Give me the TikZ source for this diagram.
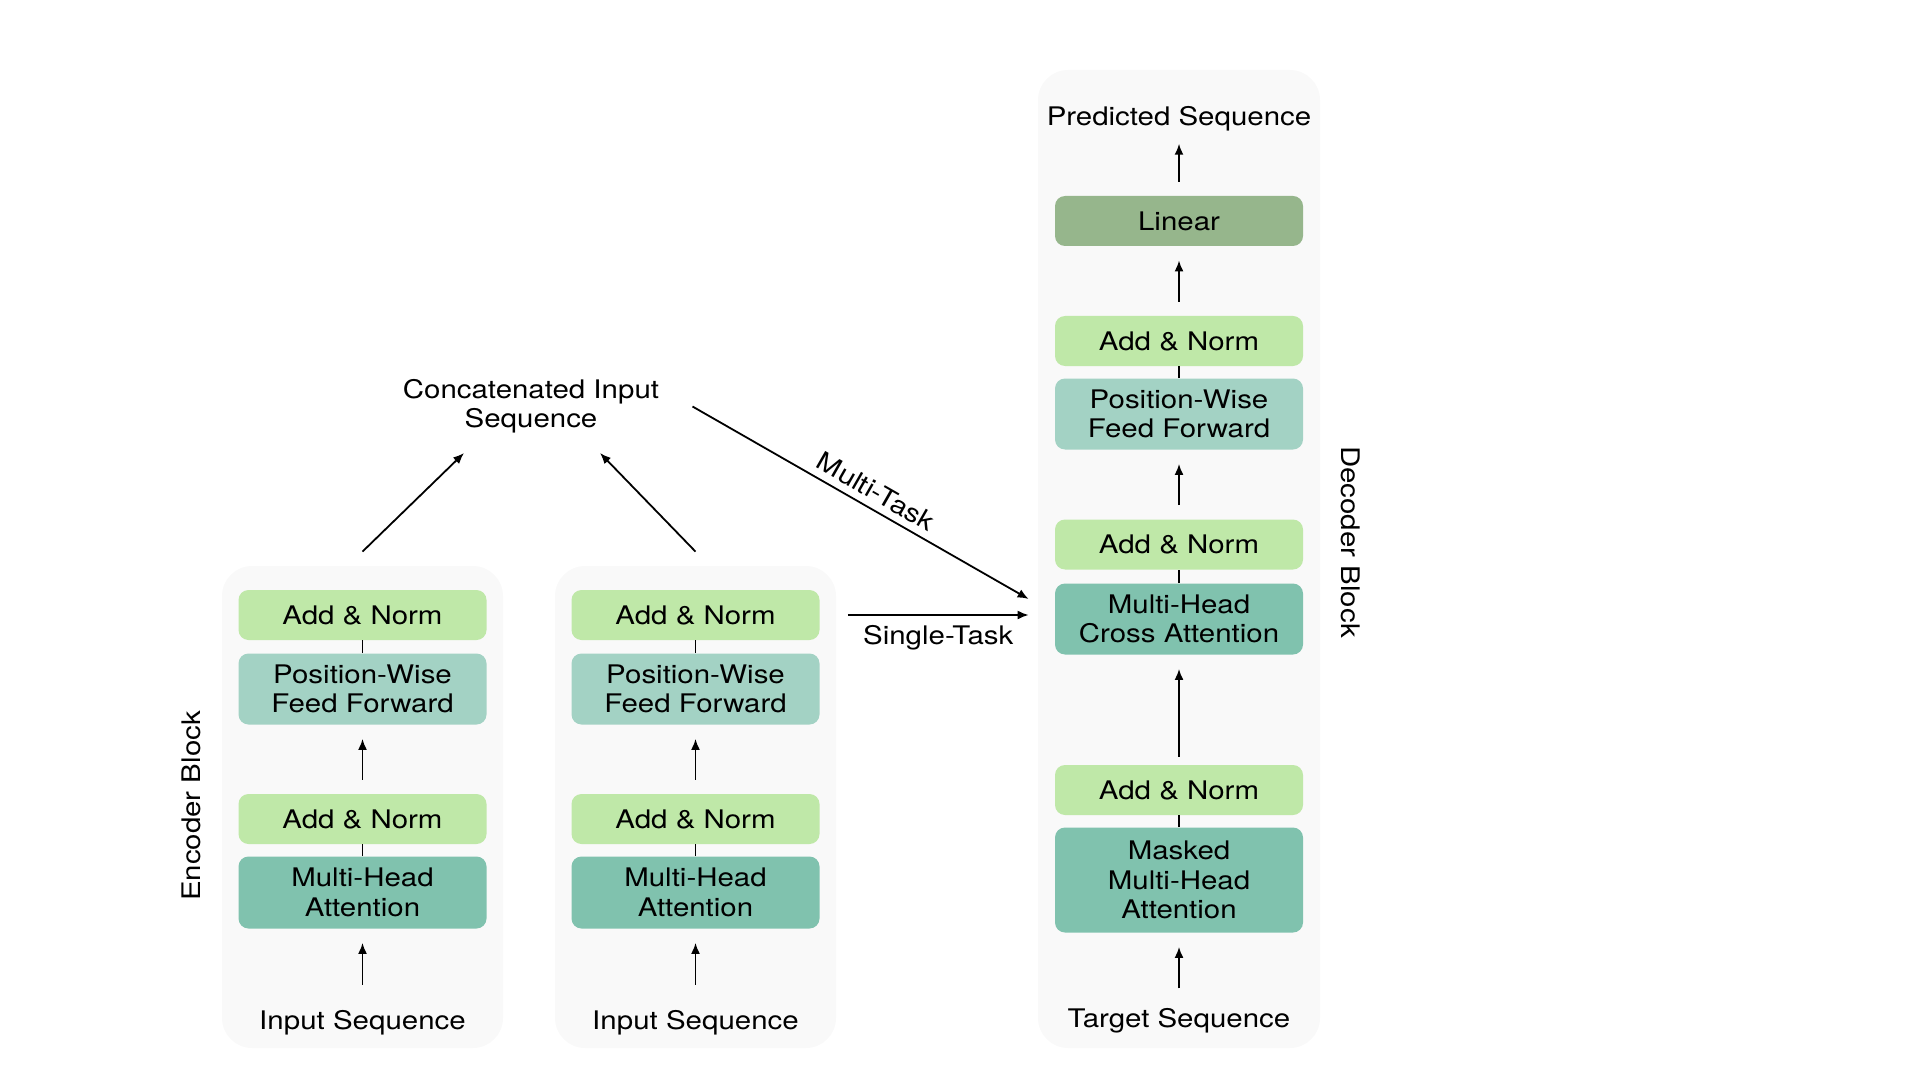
\documentclass[tikz,border=0pt]{standalone}
\usepackage{fontspec}
\setmainfont[FakeStretch=1.15]{TeX Gyre Heros}
\usetikzlibrary{arrows.meta, positioning, calc}
\definecolor{normcolor}{RGB}{191, 232, 168}
\definecolor{ffcolor}{RGB}{163, 210, 196}
\definecolor{attcolor}{RGB}{128, 194, 174}
\definecolor{linearcolor}{RGB}{150, 182, 140}
\definecolor{panelcolor}{RGB}{249, 249, 249}

\begin{document}
\begin{tikzpicture}[
    x=0.5pt, y=-0.5pt,
    >={Latex[length=5.5pt, width=4.5pt]},
    block/.style={rectangle, rounded corners=5pt, minimum width=124pt, inner sep=0pt, align=center, font=\fontsize{12.8}{14.7}\selectfont},
    norm/.style={block, fill=normcolor, minimum height=25pt},
    ffn/.style={block, fill=ffcolor, minimum height=35.5pt},
    att/.style={block, fill=attcolor, minimum height=36pt},
    arrow/.style={->, line width=0.9pt, shorten <=7pt, shorten >=7pt},
    feed/.style={->, line width=0.9pt},
    link/.style={line width=0.9pt},
    seqtext/.style={inner sep=0pt, align=center, font=\fontsize{12.8}{14.7}\selectfont},
    panel/.style={rounded corners=15pt, fill=panelcolor}
]
\useasboundingbox (0,0) rectangle (1920,1080);

% Encoder blocks
\foreach \i/\cx in {1/362.5, 2/695.5} {
    \fill[panel] (\cx-140.5, 566) rectangle (\cx+140.5, 1048);
    \node[norm] (top\i) at (\cx, 615) {Add \& Norm};
    \node[ffn] (pff\i) at (\cx, 689) {Position-Wise\\Feed Forward};
    \node[norm] (bot\i) at (\cx, 819) {Add \& Norm};
    \node[att] (mha\i) at (\cx, 892.5) {Multi-Head\\Attention};
    \node[seqtext] (in\i) at (\cx, 1022.5) {Input Sequence};
    \draw[arrow, shorten <=12.5pt] (in\i) -- (mha\i);
    \draw[link] (mha\i) -- (bot\i);
    \draw[arrow] (bot\i) -- (pff\i);
    \draw[link] (pff\i) -- (top\i);
}
\node[seqtext, rotate=90] (enclabel) at (191, 806) {Encoder Block};

% Decoder block
\fill[panel] (1038, 70) rectangle (1320, 1048);
\node[seqtext] (pred) at (1179, 119) {Predicted Sequence};
\node[block, fill=linearcolor, minimum height=25pt] (linear) at (1179, 221) {Linear};
\node[norm] (dnorm3) at (1179, 341) {Add \& Norm};
\node[ffn] (dpff) at (1179, 414) {Position-Wise\\Feed Forward};
\node[norm] (dnorm2) at (1179, 544.5) {Add \& Norm};
\node[att, minimum height=35.5pt] (cross) at (1179, 619) {Multi-Head\\Cross Attention};
\node[norm] (dnorm1) at (1179, 790) {Add \& Norm};
\node[att, minimum height=52.5pt] (masked) at (1179, 880) {Masked\\Multi-Head\\Attention};
\node[seqtext] (target) at (1179, 1021) {Target Sequence};
\node[seqtext, rotate=-90] (declabel) at (1351, 542) {Decoder Block};

\draw[arrow, shorten <=10pt] (target) -- (masked);
\draw[link] (masked) -- (dnorm1);
\draw[arrow, shorten <=4pt] (dnorm1) -- (cross);
\draw[link] (cross) -- (dnorm2);
\draw[arrow] (dnorm2) -- (dpff);
\draw[link] (dpff) -- (dnorm3);
\draw[arrow] (dnorm3) -- (linear);
\draw[arrow, shorten >=6pt] (linear) -- (pred);

% Concatenation
\node[seqtext] (concat) at (531, 406.5) {Concatenated Input\\Sequence};
\coordinate (join1) at (464, 453);
\coordinate (join2) at (600, 453);
\draw[feed] ([yshift=19pt]top1.north) -- (join1);
\draw[feed] ([yshift=19pt]top2.north) -- (join2);

% Task routes
\coordinate (taskin) at ([xshift=-13pt]cross.west);
\draw[feed] ([xshift=16.5pt]concat.east) -- ([xshift=-13pt, yshift=10pt]cross.west)
    node[pos=0.52, sloped, above, seqtext, inner sep=3.5pt] {Multi-Task};
\draw[feed] ([xshift=14pt]top2.east) -- (taskin |- top2.east)
    node[midway, below, seqtext, inner sep=4.5pt] {Single-Task};

\end{tikzpicture}
\end{document}
